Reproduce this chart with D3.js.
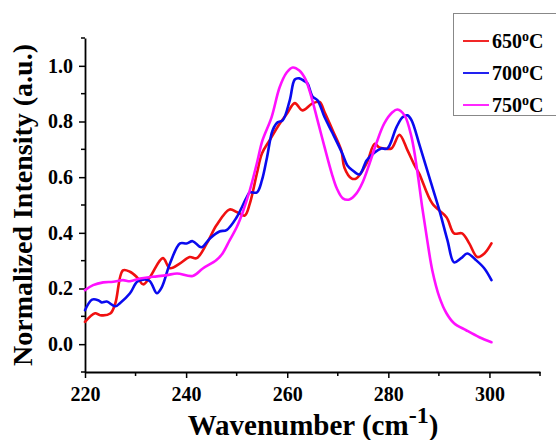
<!DOCTYPE html>
<html><head><meta charset="utf-8">
<script src="https://cdn.jsdelivr.net/npm/d3@7"></script>
<style>body{margin:0;background:#fff;} svg{display:block;}</style>
</head><body>
<svg id="c" width="556" height="440"></svg>
<script>
const seriesNames = ["650", "700", "750"];
const seriesColors = ["#f01010", "#0a0aef", "#ff10ff"];
const xTicks = [220, 240, 260, 280, 300];
const yTicks = [0.0, 0.2, 0.4, 0.6, 0.8, 1.0];

const wn650 = [220,222,223,225,226,227.5,228.9,230.3,231.5,232.8,235.4,236.8,238.8,240.7,242.1,244.1,246,248.6,250,251.6,252.6,254,255,256.5,258.5,259.9,261.5,263,265,266.4,267.4,269,270.7,271.3,272.7,273.7,275.7,277.3,278.2,279.2,280.6,282.2,283.8,285.2,286.1,288.7,291.5,293,294.6,296,297.6,299,300.4];
const val650 = [0.080,0.111,0.104,0.110,0.147,0.265,0.260,0.240,0.215,0.240,0.309,0.273,0.290,0.313,0.309,0.362,0.427,0.484,0.475,0.462,0.505,0.613,0.685,0.732,0.792,0.827,0.866,0.840,0.865,0.870,0.833,0.768,0.696,0.635,0.596,0.596,0.650,0.720,0.707,0.703,0.703,0.752,0.696,0.642,0.613,0.505,0.456,0.398,0.398,0.362,0.313,0.326,0.362];

const wn700 = [220,221.4,222.6,223.3,224.3,226,226.9,228.9,230.3,231.5,232.8,234.2,235.2,236.8,238.8,240.1,241.3,243,244.7,246.6,248,250,252,252.6,254,255,256,257.1,258.1,259.1,260.5,261.5,262.4,263.4,264,265,266,267.4,269,270.9,271.9,272.9,274.3,275.7,277.3,278.6,279.8,281.6,282.8,283.8,284.6,286.1,288.1,290.1,291.7,293,294.4,295.6,297.4,299,300.4];
const val700 = [0.122,0.160,0.158,0.150,0.153,0.136,0.147,0.183,0.224,0.232,0.227,0.183,0.205,0.290,0.362,0.362,0.370,0.348,0.380,0.405,0.410,0.456,0.528,0.545,0.545,0.589,0.671,0.768,0.797,0.804,0.876,0.951,0.955,0.945,0.937,0.890,0.876,0.815,0.757,0.685,0.642,0.625,0.610,0.660,0.689,0.703,0.703,0.779,0.815,0.822,0.804,0.720,0.600,0.481,0.373,0.294,0.309,0.326,0.301,0.272,0.230];

const wn750 = [220,221.6,223.6,225.6,227.5,228.9,230.9,233.4,236.2,238.2,241.3,243.3,246,247.2,248.6,250,251.2,252.6,254,255.1,256.9,258.5,259.9,261.1,262.4,263.6,264.8,266,267.4,268.8,269.8,271,272.3,273.7,274.9,276.3,277.6,279.2,280.8,281.8,283.2,284.6,285.7,286.7,287.7,288.7,290.1,291.5,293,295.4,298,300.4];
const val750 = [0.194,0.212,0.222,0.224,0.230,0.226,0.236,0.242,0.248,0.254,0.245,0.272,0.302,0.326,0.373,0.420,0.474,0.553,0.650,0.732,0.815,0.923,0.976,0.994,0.983,0.952,0.887,0.804,0.707,0.614,0.560,0.524,0.520,0.542,0.581,0.650,0.720,0.793,0.833,0.843,0.822,0.743,0.625,0.492,0.373,0.265,0.169,0.111,0.075,0.050,0.025,0.007];

const series = [
  {name: seriesNames[0], color: seriesColors[0], x: wn650, y: val650},
  {name: seriesNames[1], color: seriesColors[1], x: wn700, y: val700},
  {name: seriesNames[2], color: seriesColors[2], x: wn750, y: val750}
];

const svg = d3.select("#c");
const x = d3.scaleLinear().domain([220, 310]).range([85, 540]);
const y = d3.scaleLinear().domain([-0.1, 1.1]).range([372, 38]);
const font = "'Liberation Serif','Times New Roman',serif";

const xMinor = d3.range(230, 311, 20);
const yMinor = d3.range(-0.1, 1.11, 0.2);

const gx = svg.append("g").attr("transform", `translate(0,${y(-0.1)})`);
gx.call(d3.axisBottom(x).tickValues(xTicks).tickFormat(d3.format("d")).tickSize(6).tickSizeOuter(0));
gx.append("g").selectAll("line").data(xMinor).join("line")
  .attr("x1", d => x(d)).attr("x2", d => x(d)).attr("y1", 0).attr("y2", 4)
  .attr("stroke", "#000").attr("stroke-width", 1.5);

const gy = svg.append("g").attr("transform", `translate(${x(220)},0)`);
gy.call(d3.axisLeft(y).tickValues(yTicks).tickFormat(d3.format(".1f")).tickSize(6).tickSizeOuter(0));
gy.append("g").selectAll("line").data(yMinor).join("line")
  .attr("y1", d => y(d)).attr("y2", d => y(d)).attr("x1", 0).attr("x2", -4)
  .attr("stroke", "#000").attr("stroke-width", 1.5);

[gx, gy].forEach(g => {
  g.select(".domain").attr("stroke", "#000").attr("stroke-width", 1.8);
  g.selectAll(".tick line").attr("stroke", "#000").attr("stroke-width", 1.5);
  g.selectAll(".tick text").attr("font-family", font).attr("font-weight", "bold")
    .attr("font-size", 20).attr("fill", "#000");
});
gx.selectAll(".tick text").attr("dy", "1.0em");
gy.selectAll(".tick text").attr("dx", "-0.15em");

const line = d3.line().x(d => x(d[0])).y(d => y(d[1])).curve(d3.curveCatmullRom.alpha(0.5));
series.forEach(s => {
  svg.append("path").datum(s.x.map((v, i) => [v, s.y[i]]))
    .attr("d", line).attr("fill", "none").attr("stroke", s.color)
    .attr("stroke-width", 2.6).attr("stroke-linejoin", "round").attr("stroke-linecap", "round");
});

svg.append("text").attr("x", 313).attr("y", 435).attr("text-anchor", "middle")
  .attr("font-family", font).attr("font-weight", "bold").attr("font-size", 29).attr("fill", "#000")
  .html('Wavenumber (cm<tspan dy="-12" font-size="24">-1</tspan><tspan dy="12">)</tspan>');

svg.append("text").attr("transform", "translate(32,205) rotate(-90)").attr("text-anchor", "middle")
  .attr("font-family", font).attr("font-weight", "bold").attr("font-size", 28).attr("fill", "#000")
  .text("Normalized Intensity (a.u.)");

const lg = svg.append("g");
lg.append("rect").attr("x", 453.5).attr("y", 13.5).attr("width", 130).attr("height", 102)
  .attr("fill", "#fff").attr("stroke", "#888").attr("stroke-width", 1);
series.forEach((s, i) => {
  const yy = 41 + i * 32;
  lg.append("line").attr("x1", 463).attr("x2", 489).attr("y1", yy).attr("y2", yy)
    .attr("stroke", s.color).attr("stroke-width", 1.8);
  lg.append("text").attr("x", 492).attr("y", yy + 7)
    .attr("font-family", font).attr("font-weight", "bold").attr("font-size", 20).attr("fill", "#000")
    .html(`${s.name}<tspan dy="-7" font-size="14">o</tspan><tspan dy="7">C</tspan>`);
});
</script>
</body></html>
